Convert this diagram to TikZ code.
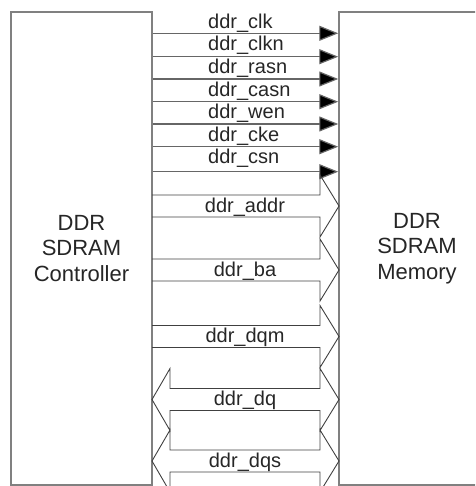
\documentclass[tikz,border=0pt]{standalone}
\usepackage{fontspec}
\setmainfont{Liberation Sans}
\usepackage{tikz}
\usetikzlibrary{arrows.meta}

\tikzset{
  block/.style={draw=black!50, line width=1.5pt, fill=white, align=center,
    font=\fontsize{22}{25.5}\selectfont, text=black!85},
  sigline/.style={draw=black!60, line width=1.2pt, -{Triangle[length=19pt,width=15pt,fill=black]}},
  siglabel/.style={anchor=base west, font=\fontsize{20}{22}\selectfont, text=black!85, inner sep=0pt},
  bus/.style={draw=black!75, line width=0.9pt},
  buslabel/.style={anchor=base, font=\fontsize{20}{22}\selectfont, text=black!85, inner sep=0pt}
}

\begin{document}
\begin{tikzpicture}[x=1pt, y=-1pt]

    \useasboundingbox (0,0) rectangle (475,486);
    \clip (0,0) rectangle (475,486);

    %Blocks
    \node[block, minimum width=141pt, minimum height=473pt] (ctrl) at (81.5,248.5) {DDR\\SDRAM\\Controller}; %Controller
    \node[block, minimum width=156pt, minimum height=473pt] (mem) at (417,248.5) {DDR\\SDRAM\\Memory}; %Memory

    %Single signals
    \foreach \y/\ly/\name [count=\i] in {33.3/28.3/ddr\_clk, 56.7/50.9/ddr\_clkn, 79/73.5/ddr\_rasn,
        101.7/96.1/ddr\_casn, 124/118.7/ddr\_wen, 146.7/141.3/ddr\_cke, 171.7/163.9/ddr\_csn} {
      \coordinate (sig\i) at (ctrl.east |- 0,\y);
      \draw[sigline] (sig\i) -- (sig\i -| mem.west);
      \node[siglabel] (lab\i) at (208,\ly) {\name};
    }

    %Buses, controller to memory
    \foreach \y/\name [count=\i] in {206/ddr\_addr, 270/ddr\_ba, 336.5/ddr\_dqm} {
      \draw[bus] (152,\y-11) -- (320,\y-11) -- (320,\y-31) -- (339,\y)
        -- (320,\y+31) -- (320,\y+11) -- (152,\y+11);
      \node[buslabel] (bus\i) at (245,\y+6) {\name};
    }

    %Buses, both ways
    \foreach \y/\name [count=\i] in {399.5/ddr\_dq, 461/ddr\_dqs} {
      \draw[bus] (170,\y-11) -- (320,\y-11) -- (320,\y-31) -- (339,\y)
        -- (320,\y+31) -- (320,\y+11) -- (170,\y+11) -- (170,\y+31)
        -- (152,\y) -- (170,\y-31) -- cycle;
      \node[buslabel] (bidir\i) at (245,\y+6) {\name};
    }

\end{tikzpicture}
\end{document}
